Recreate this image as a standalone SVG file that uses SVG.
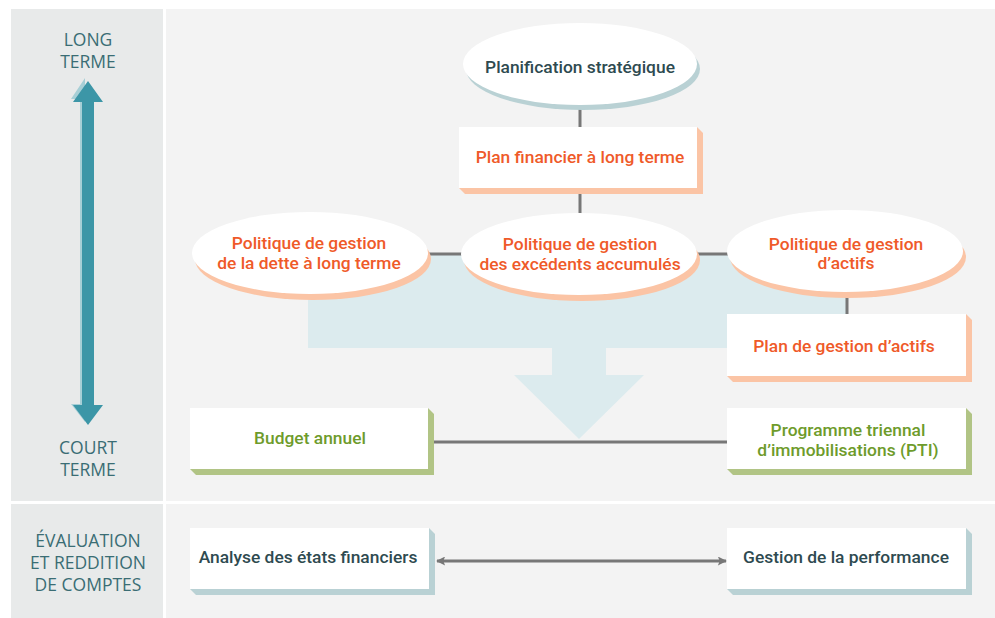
<svg xmlns="http://www.w3.org/2000/svg" width="995" height="618" viewBox="0 0 995 618">
<defs>
<style>
.side{font-family:"Open Sans","Liberation Sans",sans-serif;font-size:17.5px;fill:#3a6d74;text-anchor:middle}
.t{font-family:Roboto,"Liberation Sans",sans-serif;font-size:17.4px;font-weight:500;text-anchor:middle}
.dark{fill:#2e4a50}
.org{fill:#ef5a29}
.grn{fill:#6e9b2b}
.white{fill:#ffffff}
.shO{fill:#fbc4a5}
.shG{fill:#b1c485}
.shB{fill:#b9d1d4}
.conn{stroke:#777777;stroke-width:3;fill:none}
</style>
<marker id="ah" viewBox="0 0 10 10" refX="9" refY="5" markerWidth="10" markerHeight="9" markerUnits="userSpaceOnUse" orient="auto-start-reverse">
<path d="M0,0 L10,5 L0,10 L2,5 Z" fill="#777777"/>
</marker>
</defs>
<rect width="995" height="618" fill="#ffffff"/>
<g id="background">
<rect x="11" y="9" width="152" height="492" fill="#e8eaea"/>
<rect x="11" y="504" width="152" height="114" fill="#e8eaea"/>
<rect x="166" y="9" width="829" height="492" fill="#f3f3f3"/>
<rect x="166" y="504" width="829" height="114" fill="#f3f3f3"/>
</g>
<g id="axis">
<path d="M85,78 L71,99 L80,99 L80,404 L71,404 L85,422 Z" fill="#a7cfd6"/>
<path d="M88,81 L103,102 L94,102 L94,405 L103,405 L88,425 L73,405 L82,405 L82,102 L73,102 Z" fill="#3c96a7"/>
<text class="side" x="88" y="46">LONG</text>
<text class="side" x="88" y="68">TERME</text>
<text class="side" x="88" y="454">COURT</text>
<text class="side" x="88" y="476">TERME</text>
<text class="side" x="88" y="547">ÉVALUATION</text>
<text class="side" x="88" y="569">ET REDDITION</text>
<text class="side" x="88" y="591">DE COMPTES</text>
</g>
<g id="flow-arrow">
<path d="M308,254 L847,254 L847,348 L606,348 L606,375 L644,375 L579,439 L514,375 L552,375 L552,348 L308,348 Z" fill="#dcebee"/>
</g>
<g id="connectors">
<line class="conn" x1="580" y1="100" x2="580" y2="128"/>
<line class="conn" x1="580" y1="188" x2="580" y2="215"/>
<line class="conn" x1="310" y1="254" x2="845" y2="254"/>
<line class="conn" x1="847" y1="290" x2="847" y2="315"/>
<line class="conn" x1="428" y1="442" x2="728" y2="442"/>
<line class="conn" x1="437" y1="561" x2="726" y2="561" marker-start="url(#ah)" marker-end="url(#ah)"/>
</g>
<g id="planification">
<ellipse cx="583" cy="69" rx="117" ry="41" class="shB"/>
<ellipse cx="580" cy="64" rx="117" ry="41" class="white"/>
<text class="t dark" x="580" y="73">Planification stratégique</text>
</g>
<g id="plan-financier">
<polygon points="697,127 703,133 703,194 465,194 459,188" class="shO"/>
<rect x="459" y="127" width="238" height="61" class="white"/>
<text class="t org" x="580" y="163">Plan financier à long terme</text>
</g>
<g id="politique-dette">
<ellipse cx="313" cy="259" rx="118" ry="41" class="shO"/>
<ellipse cx="310" cy="253" rx="118" ry="41" class="white"/>
<text class="t org" x="309" y="249">Politique de gestion</text>
<text class="t org" x="309" y="269">de la dette à long terme</text>
</g>
<g id="politique-excedents">
<ellipse cx="582" cy="260" rx="118" ry="41" class="shO"/>
<ellipse cx="579" cy="254" rx="118" ry="41" class="white"/>
<text class="t org" x="580" y="250">Politique de gestion</text>
<text class="t org" x="580" y="270">des excédents accumulés</text>
</g>
<g id="politique-actifs">
<ellipse cx="848" cy="257" rx="118" ry="41" class="shO"/>
<ellipse cx="845" cy="251" rx="118" ry="41" class="white"/>
<text class="t org" x="846" y="250">Politique de gestion</text>
<text class="t org" x="846" y="269">d’actifs</text>
</g>
<g id="plan-gestion-actifs">
<polygon points="966,314 972,320 972,382 733,382 727,376" class="shO"/>
<rect x="727" y="314" width="239" height="62" class="white"/>
<text class="t org" x="844" y="352">Plan de gestion d’actifs</text>
</g>
<g id="budget-annuel">
<polygon points="428,408 434,414 434,475 196,475 190,469" class="shG"/>
<rect x="190" y="408" width="238" height="61" class="white"/>
<text class="t grn" x="310" y="444">Budget annuel</text>
</g>
<g id="pti">
<polygon points="966,408 972,414 972,475 733,475 727,469" class="shG"/>
<rect x="727" y="408" width="239" height="61" class="white"/>
<text class="t grn" x="848" y="436">Programme triennal</text>
<text class="t grn" x="848" y="456">d’immobilisations (PTI)</text>
</g>
<g id="analyse">
<polygon points="429,528 435,534 435,595 196,595 190,589" class="shB"/>
<rect x="190" y="528" width="239" height="61" class="white"/>
<text class="t dark" x="308" y="563">Analyse des états financiers</text>
</g>
<g id="performance">
<polygon points="966,528 972,534 972,595 733,595 727,589" class="shB"/>
<rect x="727" y="528" width="239" height="61" class="white"/>
<text class="t dark" x="846" y="563">Gestion de la performance</text>
</g>
</svg>
